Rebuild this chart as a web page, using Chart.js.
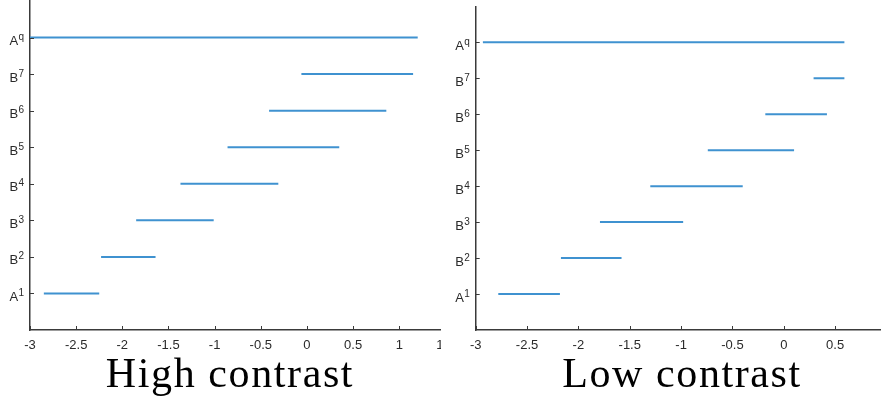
<!DOCTYPE html>
<html>
<head>
<meta charset="utf-8">
<script src="https://cdn.jsdelivr.net/npm/chart.js@4.4.0/dist/chart.umd.min.js"></script>
<style>
  html, body { margin: 0; padding: 0; width: 881px; height: 401px; overflow: hidden; background: #fff; }
  #left { position: absolute; left: 0; top: 0; width: 470px; height: 401px; }
  #right { position: absolute; left: 441px; top: 0; width: 440px; height: 401px; overflow: hidden; background: #fff; }
  canvas { position: absolute; left: 0; top: 0; display: block; }
  .title {
    position: absolute; top: 352px;
    font-family: "Liberation Serif", serif; font-size: 42px; line-height: 42px;
    letter-spacing: 1.6px; white-space: nowrap; color: #000;
    transform: translateX(-50%);
  }
</style>
</head>
<body>
<div id="left">
  <canvas id="highChart" width="470" height="360"></canvas>
  <div class="title" style="left:230px">High contrast</div>
</div>
<div id="right">
  <canvas id="lowChart" width="520" height="360"></canvas>
  <div class="title" style="left:241px">Low contrast</div>
</div>
<script>
// row labels (base letter + superscript), bottom to top
const labelBase = ['A', 'B', 'B', 'B', 'B', 'B', 'B', 'A'];
const labelSup = ['1', '2', '3', '4', '5', '6', '7', 'q'];
const rowPos = [1, 2, 3, 4, 5, 6, 7, 8];

// interval start / end for each row
const highStart = [-2.85, -2.23, -1.85, -1.37, -0.86, -0.41, -0.06, -3.0];
const highEnd = [-2.25, -1.64, -1.01, -0.31, 0.35, 0.86, 1.15, 1.2];
const lowStart = [-2.78, -2.17, -1.79, -1.30, -0.74, -0.18, 0.29, -2.93];
const lowEnd = [-2.18, -1.58, -0.98, -0.40, 0.10, 0.42, 0.59, 0.59];

// x tick values
const highTicks = [-3, -2.5, -2, -1.5, -1, -0.5, 0, 0.5, 1, 1.5];
const lowTicks = [-3, -2.5, -2, -1.5, -1, -0.5, 0, 0.5, 1];

const lineColor = '#3f92d0';
const axisColor = '#3a3a3a';
const textColor = '#2a2a2a';

// inward tick marks + superscript row labels
const axisDecor = {
    id: 'axisDecor',
    afterDraw(chart) {
        const { ctx, chartArea, scales: { x, y } } = chart;
        ctx.save();
        ctx.strokeStyle = axisColor;
        ctx.lineWidth = 1;
        ctx.beginPath();
        x.ticks.forEach(t => {
            const px = Math.round(x.getPixelForValue(t.value)) + 0.5;
            ctx.moveTo(px, chartArea.bottom);
            ctx.lineTo(px, chartArea.bottom - 4);
        });
        rowPos.forEach(v => {
            const py = Math.round(y.getPixelForValue(v)) + 0.5;
            ctx.moveTo(chartArea.left, py);
            ctx.lineTo(chartArea.left + 4, py);
        });
        ctx.stroke();

        ctx.fillStyle = textColor;
        ctx.textBaseline = 'alphabetic';
        rowPos.forEach((v, i) => {
            const py = y.getPixelForValue(v);
            ctx.font = '10px "Liberation Sans"';
            const sw = ctx.measureText(labelSup[i]).width;
            const supX = chartArea.left - 6 - sw;
            ctx.textAlign = 'left';
            ctx.fillText(labelSup[i], supX, py + 2.5);
            ctx.font = '13px "Liberation Sans"';
            ctx.textAlign = 'right';
            ctx.fillText(labelBase[i], supX - 0.3, py + 7.5);
        });
        ctx.restore();
    }
};

const makeChart = (id, starts, ends, xMax, ticks, pad, yWidth) => {
    const datasets = starts.map((s, i) => ({
        data: [{ x: s, y: rowPos[i] }, { x: ends[i], y: rowPos[i] }],
        borderColor: lineColor,
        borderWidth: 2,
        pointRadius: 0,
        showLine: true,
        fill: false
    }));
    return new Chart(document.getElementById(id), {
        type: 'scatter',
        data: { datasets: datasets },
        options: {
            responsive: false,
            animation: false,
            devicePixelRatio: 1,
            layout: { padding: pad },
            plugins: { legend: { display: false }, tooltip: { enabled: false } },
            scales: {
                x: {
                    type: 'linear',
                    min: -3,
                    max: xMax,
                    afterBuildTicks: (s) => { s.ticks = ticks.map(v => ({ value: v })); },
                    afterFit: (s) => { s.height = 30; },
                    ticks: {
                        callback: (v) => String(v),
                        font: { family: 'Liberation Sans', size: 13 },
                        color: textColor,
                        padding: 8,
                        maxRotation: 0,
                        autoSkip: false
                    },
                    grid: { display: false, drawTicks: false },
                    border: { display: true, color: axisColor, width: 1.5 }
                },
                y: {
                    type: 'linear',
                    min: 0,
                    max: 9,
                    afterFit: (s) => { s.width = yWidth; },
                    ticks: { display: false },
                    grid: { display: false, drawTicks: false },
                    border: { display: true, color: axisColor, width: 1.5 }
                }
            }
        },
        plugins: [axisDecor]
    });
};

makeChart('highChart', highStart, highEnd, 1.5, highTicks, { left: 0, top: 1, right: 24.6, bottom: 0 }, 30);
makeChart('lowChart', lowStart, lowEnd, 1, lowTicks, { left: 0, top: 6.3, right: 74.5, bottom: 0 }, 34.7);
</script>
</body>
</html>
